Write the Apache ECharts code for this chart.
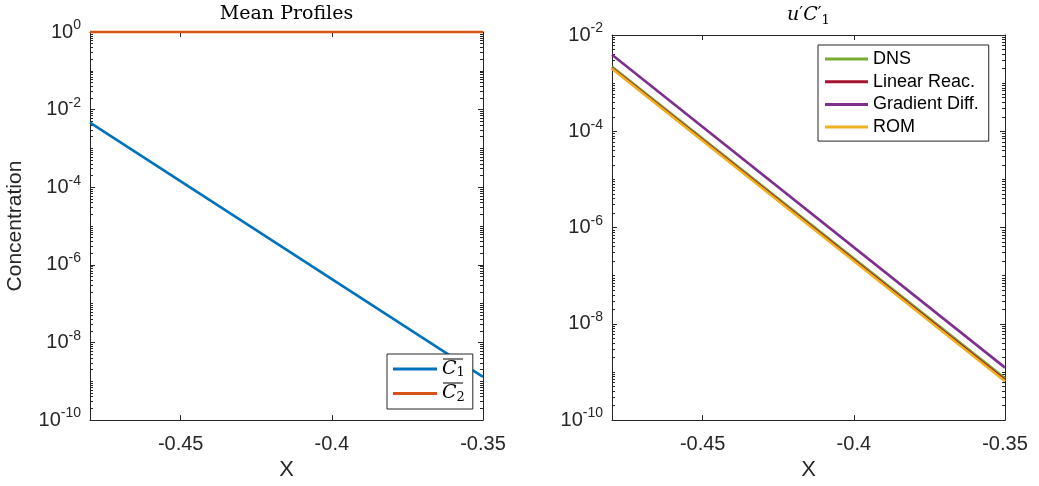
<!DOCTYPE html>
<html><head><meta charset="utf-8">
<script src="https://cdn.jsdelivr.net/npm/echarts@6/dist/echarts.min.js"></script>
<style>html,body{margin:0;padding:0;background:#fff}#c{width:1039px;height:486px}</style>
</head><body><div id="c"></div>
<script>
// ---- data ----
const xEnds = [-0.48, -0.35];
const meanC1 = [4.6e-3, 1.3e-9];
const meanC2 = [1, 1];
const dns = [2.2e-3, 7.4e-10];
const linearReac = [2.05e-3, 6.8e-10];
const gradDiff = [3.9e-3, 1.23e-9];
const rom = [2.0e-3, 6.4e-10];
const xTicks = [-0.45, -0.4, -0.35];
const xTickLabels = ['-0.45', '-0.4', '-0.35'];
const leftYRange = [1e-10, 1];
const rightYRange = [1e-10, 1e-2];
const leftNames = ['C1bar', 'C2bar'];
const rightNames = ['DNS', 'Linear Reac.', 'Gradient Diff.', 'ROM'];

const AX = '#262626';
const TK = '#262626';
const chart = echarts.init(document.getElementById('c'));
const grids = [
  {left: 90, top: 29, width: 393, height: 394},
  {left: 612, top: 29, width: 393, height: 394}
];
const titles = ['Mean Profiles', '{i|u}{p|′}{i|C}{p|′}{s|1}'];
const yRanges = [leftYRange, rightYRange];

const xAxis = [], yAxis = [];
grids.forEach((g, gi) => {
  const mkTick = () => ({show: true, inside: true, length: 5, customValues: xTicks, lineStyle: {color: TK}});
  xAxis.push({
    type: 'value', gridIndex: gi, min: xEnds[0], max: xEnds[1], position: 'bottom',
    splitLine: {show: false},
    axisLine: {show: true, lineStyle: {color: AX}},
    axisTick: mkTick(),
    axisLabel: {customValues: xTicks, formatter: v => xTickLabels[xTicks.findIndex(t => Math.abs(t - v) < 1e-9)],
      color: AX, fontSize: 20, fontFamily: 'Liberation Sans', margin: 14},
    name: 'X', nameLocation: 'middle', nameGap: 38,
    nameTextStyle: {color: AX, fontSize: 22, fontFamily: 'Liberation Sans'}
  });
  xAxis.push({
    type: 'value', gridIndex: gi, min: xEnds[0], max: xEnds[1], position: 'top',
    splitLine: {show: false},
    axisLine: {show: true, lineStyle: {color: AX}},
    axisTick: mkTick(),
    axisLabel: {show: false, customValues: xTicks},
    name: titles[gi], nameLocation: 'middle', nameGap: 8,
    nameTextStyle: {color: '#000', fontSize: 19, fontFamily: 'DejaVu Serif',
      rich: {
        i: {fontFamily: 'DejaVu Serif', fontStyle: 'italic', fontSize: 19, color: '#000'},
        p: {fontFamily: 'DejaVu Serif', fontSize: 17, color: '#000', padding: [0, 0, 4, 0]},
        s: {fontFamily: 'DejaVu Serif', fontSize: 13, color: '#000', padding: [10, 0, 0, 0]}
      }}
  });
  const r = yRanges[gi];
  const yb = () => ({type: 'log', logBase: 10, gridIndex: gi, min: r[0], max: r[1], splitLine: {show: false}});
  yAxis.push(Object.assign(yb(), {
    position: 'left', interval: 2,
    axisLine: {show: true, lineStyle: {color: AX}},
    axisTick: {show: true, inside: true, length: 5, lineStyle: {color: TK}},
    axisLabel: {
      color: AX, margin: 9,
      formatter: v => '{b|10}{e|' + Math.round(Math.log10(v)) + '}',
      rich: {
        b: {fontSize: 20, fontFamily: 'Liberation Sans', color: AX},
        e: {fontSize: 14, fontFamily: 'Liberation Sans', color: AX, padding: [0, 0, 13, 0]}
      }
    },
    name: gi === 0 ? 'Concentration' : '', nameLocation: 'middle', nameGap: 64,
    nameTextStyle: {color: AX, fontSize: 21, fontFamily: 'Liberation Sans'}
  }));
  yAxis.push(Object.assign(yb(), {
    position: 'right', interval: 2,
    axisLine: {show: true, lineStyle: {color: AX}},
    axisTick: {show: true, inside: true, length: 5, lineStyle: {color: TK}},
    axisLabel: {show: false}
  }));
  ['left', 'right'].forEach(pos => {
    yAxis.push(Object.assign(yb(), {
      position: pos, interval: 1,
      axisLine: {show: false},
      axisTick: {show: true, inside: true, length: 3, lineStyle: {color: TK}},
      minorTick: {show: true, splitNumber: 9, length: 3, lineStyle: {color: TK}},
      axisLabel: {show: false}
    }));
  });
});

function mk(name, gi, ys, color, extra) {
  return Object.assign({
    name, type: 'line', xAxisIndex: gi * 2, yAxisIndex: gi * 4,
    data: xEnds.map((x, i) => [x, ys[i]]),
    showSymbol: false, symbol: 'none', color,
    lineStyle: {color, width: 2.6}
  }, extra || {});
}

const series = [
  mk('C1bar', 0, meanC1, '#0072BD'),
  mk('C2bar', 0, meanC2, '#D95319', {clip: false}),
  mk('DNS', 1, dns, '#77AC30'),
  mk('Linear Reac.', 1, linearReac, '#A2142F'),
  mk('Gradient Diff.', 1, gradDiff, '#7E2F8E'),
  mk('ROM', 1, rom, '#EDB120')
];

chart.setOption({
  animation: false,
  backgroundColor: '#fff',
  grid: grids,
  xAxis, yAxis, series,
  legend: [
    {
      data: leftNames, orient: 'vertical', left: 387, top: 354,
      backgroundColor: '#fff', borderColor: AX, borderWidth: 1,
      padding: [5, 8, 5, 6], itemGap: 4, itemWidth: 44, itemHeight: 3, icon: 'rect',
      formatter: n => n === 'C1bar' ? '{c|C}{s|1}' : '{c|C}{s|2}',
      textStyle: {color: '#000', lineHeight: 20,
        rich: {
          c: {fontFamily: 'DejaVu Serif', fontStyle: 'italic', fontSize: 19, color: '#000'},
          s: {fontFamily: 'DejaVu Serif', fontSize: 13, color: '#000', padding: [8, 0, 0, 0]}
        }}
    },
    {
      data: rightNames, orient: 'vertical', left: 818, top: 45,
      backgroundColor: '#fff', borderColor: AX, borderWidth: 1,
      padding: [5, 10, 5, 7], itemGap: 4.7, itemWidth: 43, itemHeight: 3, icon: 'rect',
      textStyle: {color: '#000', fontSize: 18, lineHeight: 18, fontFamily: 'Liberation Sans'}
    }
  ],
  graphic: [
    {type: 'line', z: 100, shape: {x1: 443, y1: 359, x2: 463, y2: 359}, style: {stroke: '#000', lineWidth: 1}},
    {type: 'line', z: 100, shape: {x1: 443, y1: 383, x2: 463, y2: 383}, style: {stroke: '#000', lineWidth: 1}}
  ]
});
</script>
</body></html>
